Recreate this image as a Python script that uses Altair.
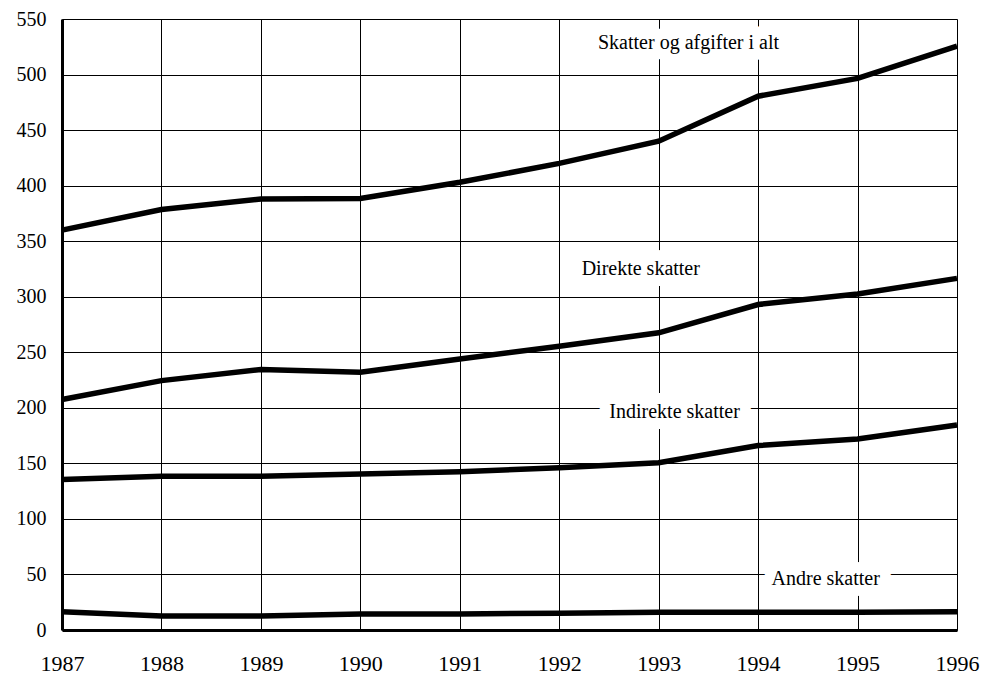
import altair as alt
import pandas as pd

years = [1987, 1988, 1989, 1990, 1991, 1992, 1993, 1994, 1995, 1996]
total = [360, 378.5, 388, 388.5, 403, 420, 440, 480.5, 496.5, 525.5]
direkte = [207.5, 224.5, 234.5, 232, 244, 255.5, 267.5, 293, 302.5, 316.5]
indirekte = [135.5, 138.5, 138.5, 140.5, 142.5, 146, 150.5, 166, 172, 184.5]
andre = [16.5, 12.5, 12.5, 14.5, 14.5, 15, 16, 16, 16, 16.5]

series_names = ["Skatter og afgifter i alt", "Direkte skatter", "Indirekte skatter", "Andre skatter"]
label_x = [1993.3, 1992.82, 1993.16, 1994.68]
label_y = [528.5, 324.8, 196, 45.7]

rows = []
for name, vals in zip(series_names, [total, direkte, indirekte, andre]):
    for yr, v in zip(years, vals):
        rows.append({"year": yr, "value": v, "series": name})
df = pd.DataFrame(rows)
labels = pd.DataFrame({"x": label_x, "y": label_y, "text": series_names})

FONT = "Liberation Serif, Times New Roman, serif"
xscale = alt.Scale(domain=[1987, 1996], nice=False, zero=False)
yscale = alt.Scale(domain=[0, 550], nice=False)

lines = alt.Chart(df).mark_line(color="black", strokeWidth=5.5, strokeJoin="miter", clip=False).encode(
    x=alt.X("year:Q", scale=xscale,
            axis=alt.Axis(values=years, format="d", title=None, tickSize=0, labelPadding=23,
                          labelBaseline="top",
                          labelFont=FONT, labelFontSize=22, labelColor="black",
                          domainColor="black", domainWidth=3,
                          gridColor="black", gridWidth=1, gridOpacity=1, labelFlush=False)),
    y=alt.Y("value:Q", scale=yscale,
            axis=alt.Axis(values=list(range(0, 551, 50)), title=None, tickSize=0, labelPadding=16,
                          labelFont=FONT, labelFontSize=20, labelColor="black",
                          domainColor="black", domainWidth=3,
                          gridColor="black", gridWidth=1, gridOpacity=1)),
    detail="series:N",
)

halo = alt.Chart(labels).mark_text(font=FONT, fontSize=20, color="white", stroke="white",
                                   strokeWidth=22, strokeJoin="round").encode(
    x=alt.X("x:Q", scale=xscale), y=alt.Y("y:Q", scale=yscale), text="text:N")
txt = alt.Chart(labels).mark_text(font=FONT, fontSize=20, color="black").encode(
    x=alt.X("x:Q", scale=xscale), y=alt.Y("y:Q", scale=yscale), text="text:N")

chart = alt.layer(lines, halo, txt).properties(
    width=895, height=611,
    autosize=alt.AutoSizeParams(type="none"),
    padding={"left": 54, "top": 11, "right": 30, "bottom": 46},
).configure_view(stroke="black", strokeWidth=3).configure(background="white", font=FONT)

chart.save("out.html", embed_options={"renderer": "svg", "actions": False})
